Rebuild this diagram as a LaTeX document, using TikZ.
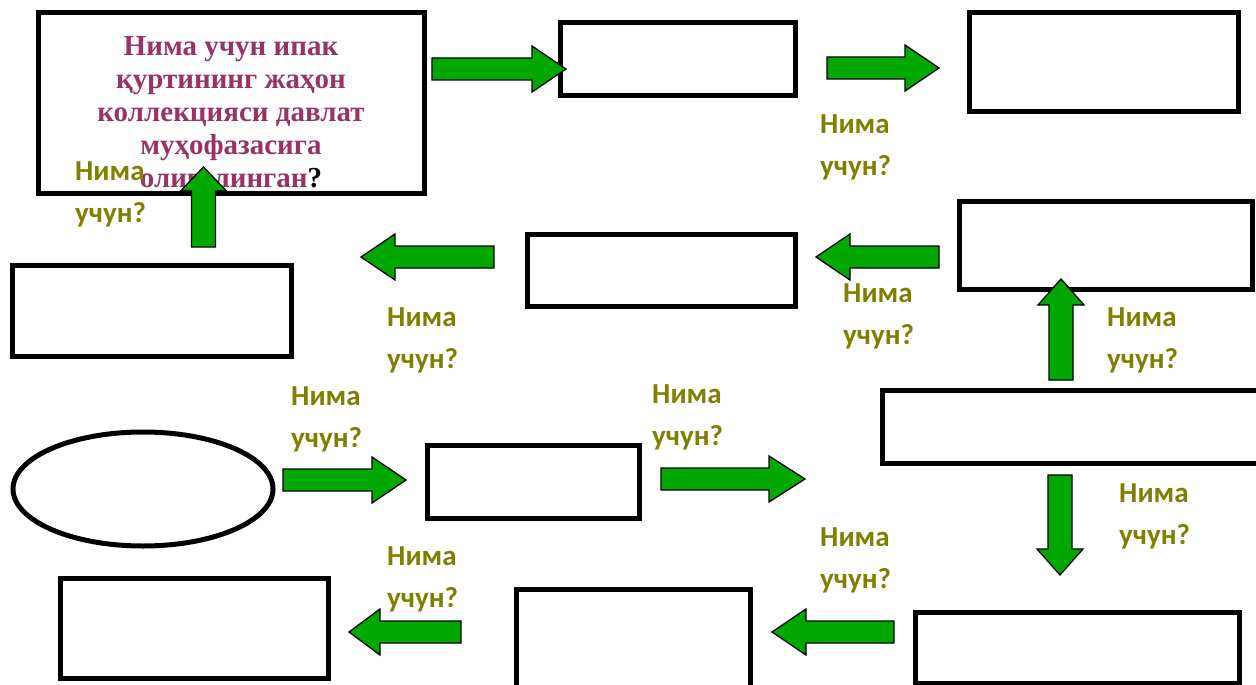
\documentclass[tikz,border=0pt]{standalone}
\usepackage{fontspec}
\setmainfont{Liberation Serif}
\newfontfamily\lblfont{Carlito}
\usetikzlibrary{shapes.geometric}
\definecolor{arrgreen}{RGB}{0,168,0}
\definecolor{lblolive}{RGB}{128,128,0}
\definecolor{ttlpurple}{RGB}{153,51,102}
\newcommand\barrowh[4]{\draw[barrow] (#1,#3-11) -- (#4,#3-11) -- (#4,#3-23) -- (#2,#3) -- (#4,#3+23) -- (#4,#3+11) -- (#1,#3+11) -- cycle;}
\newcommand\barrowv[4]{\draw[barrow] (#1-12,#2) -- (#1-12,#4) -- (#1-23,#4) -- (#1,#3) -- (#1+23,#4) -- (#1+12,#4) -- (#1+12,#2) -- cycle;}
\begin{document}
\begin{tikzpicture}[x=1pt,y=-1pt,
  box/.style={draw=black,line width=5pt,fill=white,inner sep=0pt},
  barrow/.style={draw=black,line width=1.3pt,fill=arrgreen,line join=miter},
  lbl/.style={text=lblolive,font=\lblfont\bfseries\fontsize{29}{42}\selectfont,align=left,anchor=north west,inner sep=0pt}]
\useasboundingbox[fill=white] (0,0) rectangle (1256,685);
\clip (0,0) rectangle (1256,685);
% boxes
\node[box,minimum width=386pt,minimum height=180pt] (b1) at (231,103) {};
\node[box,minimum width=235pt,minimum height=72pt] (b2) at (677.5,59) {};
\node[box,minimum width=269pt,minimum height=98pt] (b3) at (1103.5,62) {};
\node[box,minimum width=293pt,minimum height=88pt] (b4) at (1105.5,245) {};
\node[box,minimum width=268pt,minimum height=72pt] (b5) at (661,270) {};
\node[box,minimum width=279pt,minimum height=91pt] (b6) at (151.5,310.5) {};
\node[box,minimum width=378pt,minimum height=73pt] (b7) at (1071,426.5) {};
\node[box,minimum width=212pt,minimum height=73pt] (b8) at (533,481.5) {};
\node[box,ellipse,minimum width=260pt,minimum height=114pt] (e1) at (143,489) {};
\node[box,minimum width=268pt,minimum height=100pt] (b9) at (194,628) {};
\node[box,minimum width=234pt,minimum height=111pt] (b10) at (633,644.5) {};
\node[box,minimum width=324pt,minimum height=71pt] (b11) at (1077,647.5) {};
% title
\node[align=center,text=ttlpurple,font=\bfseries\fontsize{29}{33}\selectfont,inner sep=0pt] (ttl) at (231,112)
 {Нима учун ипак\\ қуртининг жаҳон\\ коллекцияси давлат\\ муҳофазасига\\ олиголинган\textcolor{black}{?}};
% arrows
\barrowh{432}{566}{69}{532}
\barrowh{827}{939}{68}{905}
\barrowv{203.5}{247}{167}{191}
\barrowh{494}{361}{257}{395}
\barrowh{939}{816}{257}{850}
\barrowv{1061}{380}{279}{305}
\barrowh{283}{406}{480}{372}
\barrowh{661}{805}{479}{769}
\barrowv{1060}{475}{575}{549}
\barrowh{894}{772}{632}{806}
\barrowh{461}{349}{632}{380}
% labels
\node[lbl] (l1) at (820,114) {Нима\\учун?};
\node[lbl] (l2) at (75,161) {Нима\\учун?};
\node[lbl] (l3) at (387,307) {Нима\\учун?};
\node[lbl] (l4) at (843,283) {Нима\\учун?};
\node[lbl] (l5) at (1107,307) {Нима\\учун?};
\node[lbl] (l6) at (291,386) {Нима\\учун?};
\node[lbl] (l7) at (652,384) {Нима\\учун?};
\node[lbl] (l8) at (1119,483) {Нима\\учун?};
\node[lbl] (l9) at (820,527) {Нима\\учун?};
\node[lbl] (l10) at (387,546) {Нима\\учун?};
\end{tikzpicture}
\end{document}
